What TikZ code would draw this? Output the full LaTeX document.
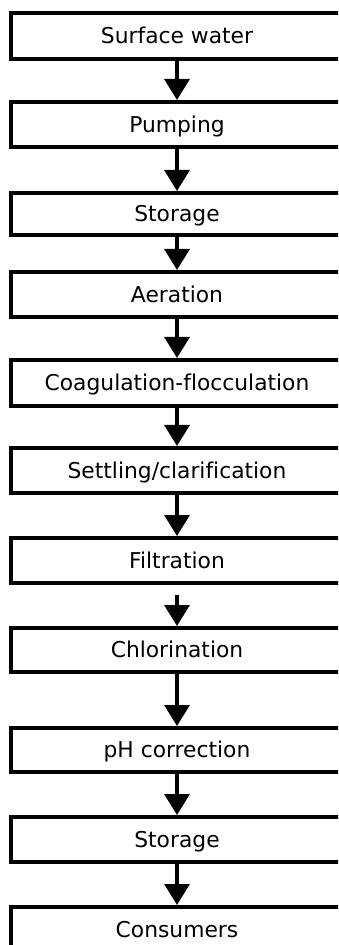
\documentclass[tikz,border=0pt]{standalone}
\usepackage{fontspec}
\setmainfont[Ligatures=NoCommon]{DejaVu Sans}
\usetikzlibrary{arrows.meta}
\tikzset{
  stepbox/.style={draw=black, line width=2pt, minimum width=166pt, minimum height=#1,
    inner sep=0pt, text height=7.9pt, text depth=0pt, font=\fontsize{10.9}{13}\selectfont},
  flow/.style={line width=1.6pt, -{Triangle[length=10.5pt,width=12.5pt]}}
}
\begin{document}
\begin{tikzpicture}[x=0.5pt,y=-0.5pt]
\clip (0,0) rectangle (338,945);
\fill[white] (0,0) rectangle (338,945);
\node[stepbox=23pt]   (n1)  at (177,36)    {Surface water};
\node[stepbox=22.5pt] (n2)  at (177,124.5) {Pumping};
\node[stepbox=21pt]   (n3)  at (177,214)   {Storage};
\node[stepbox=22.5pt] (n4)  at (177,294.5) {Aeration};
\node[stepbox=23pt]   (n5)  at (177,383)   {Coagulation-flocculation};
\node[stepbox=22.5pt] (n6)  at (177,470.5) {Settling/clarification};
\node[stepbox=22.5pt] (n7)  at (177,560.5) {Filtration};
\node[stepbox=22pt]   (n8)  at (177,650)   {Chlorination};
\node[stepbox=22pt]   (n9)  at (177,750)   {pH correction};
\node[stepbox=22.5pt] (n10) at (177,839.5) {Storage};
\node[stepbox=22.5pt] (n11) at (177,929.5) {Consumers};
\draw[flow] (n1) -- (n2);
\draw[flow] (n2) -- (n3);
\draw[flow] (n3) -- (n4);
\draw[flow] (n4) -- (n5);
\draw[flow] (n5) -- (n6);
\draw[flow] (n6) -- (n7);
\draw[flow, shorten <=5pt] (n7) -- (n8);
\draw[flow] (n8) -- (n9);
\draw[flow] (n9) -- (n10);
\draw[flow] (n10) -- (n11);
\end{tikzpicture}
\end{document}
